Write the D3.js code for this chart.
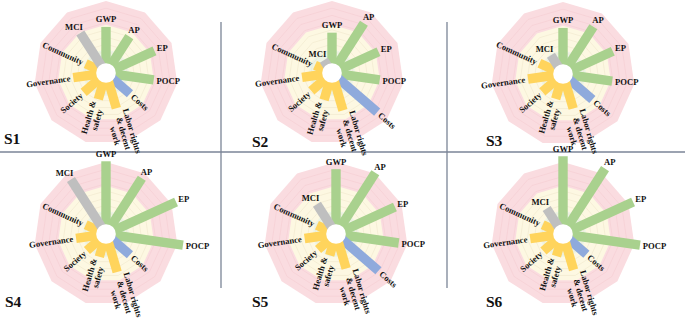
<!DOCTYPE html>
<html>
<head>
<meta charset="utf-8">
<script src="https://cdn.jsdelivr.net/npm/d3@7"></script>
<style>
  body { margin: 0; background: #fff; }
  svg { display: block; }
  text { font-family: "Liberation Serif", "Times New Roman", serif; font-weight: bold; fill: #111; }
</style>
</head>
<body>
<script>
// indicators, clockwise from top
const categories = ["GWP", "AP", "EP", "POCP", "Costs", "Labor rights\n& decent\nwork", "Health &\nsafety", "Society", "Governance", "Community", "MCI"];
const groups = ["env", "env", "env", "env", "eco", "soc", "soc", "soc", "soc", "soc", "circ"];
const scenarios = ["S1", "S2", "S3", "S4", "S5", "S6"];

// scores (outer polygon = 100)
const s1 = [64, 60, 74, 67, 44, 51, 38, 41, 46, 31, 66];
const s2 = [56, 82, 71, 67, 83, 54, 39, 38, 42, 26, 21];
const s3 = [64, 78, 76, 69, 54, 50, 36, 38, 49, 36, 31];
const s4 = [101, 92, 107, 108, 44, 55, 33, 35, 42, 31, 90];
const s5 = [90, 101, 90, 88, 78, 50, 31, 33, 44, 29, 49];
const s6 = [108, 108, 107, 108, 43, 52, 32, 36, 46, 31, 42];
const values = [s1, s2, s3, s4, s5, s6];

const width = 685, height = 318;
const R = 72;
const centers = [[106, 73], [332, 73], [563, 74], [106, 234], [336, 234], [563, 234]];
const tagPos = [[4, 144], [252, 147], [486, 146], [5, 307], [252, 307], [486, 307]];

const color = d3.scaleOrdinal()
  .domain(["env", "eco", "soc", "circ"])
  .range(["#a9d18e", "#8faadc", "#ffd45c", "#bfbfbf"]);

const angle = d3.scaleBand().domain(categories).range([0, 2 * Math.PI]).paddingInner(0).align(0);
const ang = c => angle(c);  // band start = spoke angle
const r = d3.scaleLinear().domain([0, 100]).range([0, R]);

const svg = d3.select("body").append("svg")
  .attr("width", width).attr("height", height);

// separator lines
const lineCol = "#7b8597";
svg.append("line").attr("x1", 0).attr("x2", width).attr("y1", 152).attr("y2", 152)
  .attr("stroke", lineCol).attr("stroke-width", 1.3);
[221, 447].forEach(x => {
  svg.append("line").attr("x1", x).attr("x2", x).attr("y1", 22).attr("y2", 152)
    .attr("stroke", lineCol).attr("stroke-width", 1.3);
  svg.append("line").attr("x1", x).attr("x2", x).attr("y1", 152).attr("y2", 288)
    .attr("stroke", lineCol).attr("stroke-width", 1.3);
});

const poly = v => d3.line().curve(d3.curveLinearClosed)(
  categories.map(c => [r(v) * Math.sin(ang(c)), -r(v) * Math.cos(ang(c))]));

scenarios.forEach((s, i) => {
  const g = svg.append("g").attr("transform", `translate(${centers[i][0]},${centers[i][1]})`);
  const data = categories.map((c, k) => ({ c, v: values[i][k], grp: groups[k], k }));

  // background bands
  g.append("path").attr("d", poly(100)).attr("fill", "#fadce0");
  g.append("path").attr("d", poly(67)).attr("fill", "#fdf8e2");
  g.append("path").attr("d", poly(33)).attr("fill", "#edf4e6");
  // grid rings
  d3.range(10, 100, 10).forEach(v => {
    g.append("path").attr("d", poly(v)).attr("fill", "none")
      .attr("stroke", v > 67 ? "#f5cdd2" : "#f0e8cc").attr("stroke-width", 0.6);
  });

  // bars
  g.append("g").selectAll("rect").data(data).join("rect")
    .attr("x", -4.7).attr("width", 9.4)
    .attr("y", d => -r(d.v)).attr("height", d => r(d.v))
    .attr("transform", d => `rotate(${ang(d.c) * 180 / Math.PI})`)
    .attr("fill", d => color(d.grp));

  g.append("circle").attr("r", 9.8).attr("fill", "#fff");

  // labels
  const fs = 8.6, lh = 8.8, gap = 3;
  data.forEach(d => {
    const a = ang(d.c);
    const sx = Math.sin(a), cy = Math.cos(a);
    const lines = d.c.split("\n");
    const horizontal = d.k <= 3 || d.k === 10;
    if (horizontal) {
      const len = r(d.v) + gap;
      const px = len * sx, py = -len * cy;
      const t = g.append("text").attr("font-size", fs).attr("dominant-baseline", "central").text(lines[0]);
      const w = t.node().getComputedTextLength();
      t.attr("x", px - w * (1 - sx) / 2).attr("y", py - cy * 4.5);
    } else {
      const deg = a * 180 / Math.PI;
      const rot = sx > 0 ? deg - 90 : deg - 270;
      const t = g.append("text").attr("font-size", fs).attr("text-anchor", "middle");
      lines.forEach((ln, j) => {
        t.append("tspan").attr("x", 0)
          .attr("y", (j - (lines.length - 1) / 2) * lh)
          .attr("dominant-baseline", "central").text(ln);
      });
      const w = d3.max(t.selectAll("tspan").nodes(), n => n.getComputedTextLength());
      const len = r(d.v) + gap + w / 2;
      t.attr("transform", `translate(${len * sx},${-len * cy}) rotate(${rot})`);
    }
  });

  svg.append("text").attr("x", tagPos[i][0]).attr("y", tagPos[i][1])
    .attr("font-size", 15.5).text(s);
});
</script>
</body>
</html>
